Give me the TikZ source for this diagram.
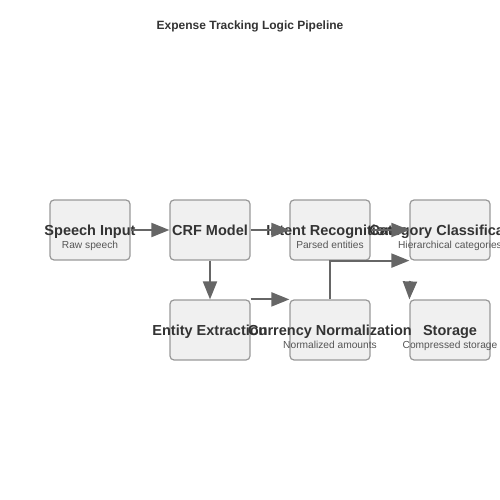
\documentclass[tikz,border=0pt]{standalone}
\usepackage{fontspec}
\setmainfont{Liberation Sans}
\usetikzlibrary{arrows.meta}
\definecolor{boxfill}{HTML}{F0F0F0}
\definecolor{boxline}{HTML}{999999}
\definecolor{arrowc}{HTML}{666666}
\definecolor{txtmain}{HTML}{333333}
\definecolor{txtsub}{HTML}{555555}
\begin{document}
\begin{tikzpicture}[x=1pt,y=-1pt,
  stagebox/.style={draw=boxline,fill=boxfill,line width=1.2pt,rounded corners=4pt,minimum width=80pt,minimum height=60pt,inner sep=0pt},
  mainlbl/.style={font=\fontsize{14.5}{16}\selectfont\bfseries,text=txtmain,inner sep=0pt,anchor=base},
  sublbl/.style={font=\fontsize{10.2}{12}\selectfont,text=txtsub,inner sep=0pt,anchor=base},
  flow/.style={draw=arrowc,line width=2pt,-{Triangle[length=18pt,width=14pt]}}]
\useasboundingbox (0,0) rectangle (500,500);
\node[font=\fontsize{12}{14}\selectfont\bfseries,text=txtmain,inner sep=0pt,anchor=base] (title) at (250,29.5) {Expense Tracking Logic Pipeline};
% boxes
\node[stagebox] (speech) at (90,230) {};
\node[stagebox] (crf) at (210,230) {};
\node[stagebox] (intent) at (330,230) {};
\node[stagebox] (category) at (450,230) {};
\node[stagebox] (entity) at (210,330) {};
\node[stagebox] (currency) at (330,330) {};
\node[stagebox] (storage) at (450,330) {};
% labels
\node[mainlbl] (speechT) at (90,235) {Speech Input};
\node[sublbl] (speechS) at (90,248) {Raw speech};
\node[mainlbl] (crfT) at (210,235) {CRF Model};
\node[mainlbl] (intentT) at (330,235) {Intent Recognition};
\node[sublbl] (intentS) at (330,248) {Parsed entities};
\node[mainlbl] (categoryT) at (450,235) {Category Classification};
\node[sublbl] (categoryS) at (450,248) {Hierarchical categories};
\node[mainlbl] (entityT) at (210,335) {Entity Extraction};
\node[mainlbl] (currencyT) at (330,335) {Currency Normalization};
\node[sublbl] (currencyS) at (330,348) {Normalized amounts};
\node[mainlbl] (storageT) at (450,335) {Storage};
\node[sublbl] (storageS) at (450,348) {Compressed storage};
% arrows
\draw[flow] (speech.east) -- (crf.west);
\draw[flow] (crf.east) -- (intent.west);
\draw[flow] (intent.east) -- (category.west);
\draw[flow] (crf.south) -- (entity.north);
\draw[flow] (entity.north east) -- (currency.north west);
\draw[flow] (currency.north) -- (intent.south) -- (category.south west);
\coordinate (storeIn) at (410,281);
\draw[flow] (storeIn) -- (storage.north west);
\end{tikzpicture}
\end{document}
